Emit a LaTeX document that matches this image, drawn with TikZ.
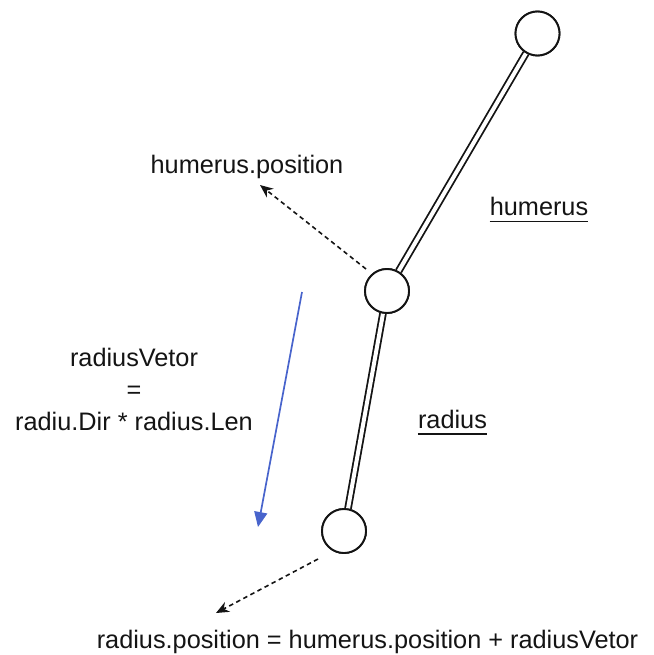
\documentclass[tikz,border=0pt]{standalone}
\usepackage{fontspec}
\setmainfont{Liberation Sans}
\usetikzlibrary{arrows.meta}
\definecolor{vecblue}{RGB}{72,100,204}
\definecolor{ink}{RGB}{20,20,20}
\begin{document}
\begin{tikzpicture}[x=1pt,y=-1pt,
  joint/.style={circle,draw=ink,line width=1.9pt,fill=white,minimum size=44pt,inner sep=0pt},
  bone/.style={draw=ink,line width=1.8pt,double=white,double distance=4pt},
  hint/.style={draw=ink,line width=1.6pt,dash pattern=on 4.5pt off 3.5pt,-{Stealth[length=13pt,width=11pt]}},
  vec/.style={draw=vecblue,line width=1.7pt,-{Triangle[length=15pt,width=13pt]}},
  txt/.style={font=\fontsize{25.3}{32}\selectfont,text=ink,inner sep=0pt},
  lbl/.style={txt,anchor=base}]
  \useasboundingbox (0,0) rectangle (653,655);

  % joints: shoulder, elbow, wrist
  \node[joint] (shoulder) at (537.5,33.5) {};
  \node[joint] (elbow) at (387,291) {};
  \node[joint] (wrist) at (344,531) {};

  % bones between joints
  \draw[bone] (shoulder) -- (elbow);
  \draw[bone] (elbow) -- (wrist);
  \node[joint] at (537.5,33.5) {};
  \node[joint] at (387,291) {};
  \node[joint] at (344,531) {};

  % bone names
  \node[lbl] (humLbl) at (539,215) {humerus};
  \draw[ink,line width=1.6pt] ([yshift=-6.5pt]humLbl.base west) -- ([yshift=-6.5pt]humLbl.base east);
  \node[lbl] (radLbl) at (452.5,428) {radius};
  \draw[ink,line width=1.6pt] ([yshift=-6pt]radLbl.base west) -- ([yshift=-6pt]radLbl.base east);

  % position hints
  \node[lbl] (humPos) at (247,173) {humerus.position};
  \coordinate (humFrom) at (366,269);
  \coordinate (humTo) at (260,185);
  \draw[hint] (humFrom) -- (humTo);

  \node[lbl] (radPos) at (367.5,648) {radius.position = humerus.position + radiusVetor};
  \coordinate (radFrom) at (318,559);
  \coordinate (radTo) at (216,613);
  \draw[hint] (radFrom) -- (radTo);

  % radius vector
  \coordinate (vecFrom) at (302,292);
  \coordinate (vecTo) at (258,527);
  \draw[vec] (vecFrom) -- (vecTo);
  \node[txt,align=center,anchor=base] (vecEq) at (134,430.5)
    {radiusVetor\\=\\radiu.Dir * radius.Len};
\end{tikzpicture}
\end{document}
